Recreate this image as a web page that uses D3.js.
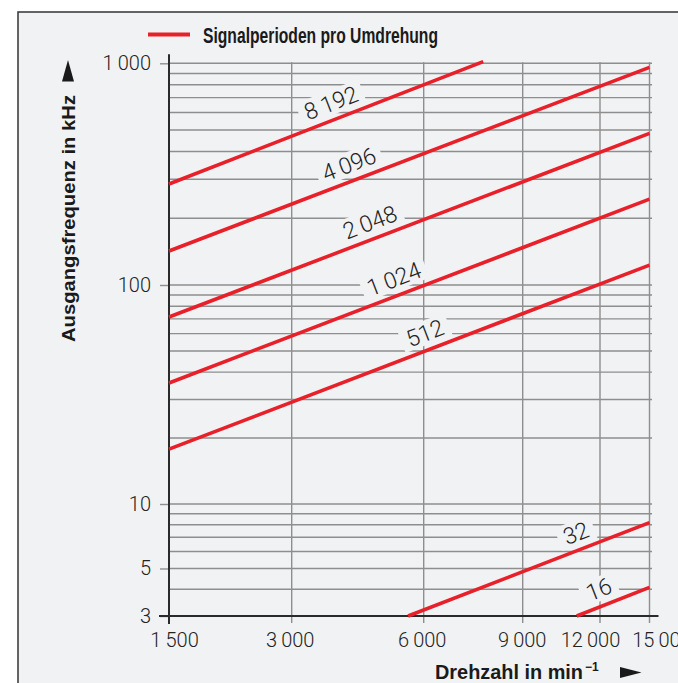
<!DOCTYPE html>
<html><head><meta charset="utf-8">
<script src="https://cdn.jsdelivr.net/npm/d3@7"></script>
<style>html,body{margin:0;padding:0;background:#fff;} svg{display:block;}</style>
</head><body><svg id="c" width="678" height="683"></svg>
<script>
const TS = "\u2009";
// ---- data ----
const xTicks = [1500, 3000, 6000, 9000, 12000, 15000];
const xTickLabels = ["1" + TS + "500", "3" + TS + "000", "6" + TS + "000", "9" + TS + "000", "12" + TS + "000", "15" + TS + "000"];
const yTicks = [3, 5, 10, 100, 1000];
const yTickLabels = ["3", "5", "10", "100", "1" + TS + "000"];
const seriesNames = ["8" + TS + "192", "4" + TS + "096", "2" + TS + "048", "1" + TS + "024", "512", "32", "16"];
const startRpm = [1500, 1500, 1500, 1500, 1500, 5528, 11005];
const startKHz = [285.5, 142.3, 71.4, 35.7, 17.8, 3, 3];
const endRpm = [7656, 15000, 15000, 15000, 15000, 15000, 15000];
const endKHz = [1017, 959, 483, 244, 123, 8.18, 4.08];
const labelRpm = [3806, 4183, 4669, 5297, 6182, 11220, 12274];
const legendLabel = "Signalperioden pro Umdrehung";
const yTitle = "Ausgangsfrequenz in kHz";
const xTitle = "Drehzahl in min";
const xTitleSup = "\u22121";

// ---- style ----
const BG = "#f1f2f4", GRID = "#8e8e8e", AX = "#2a2a2a", RED = "#e8202a", TXT = "#222";
const LIGHT = "Roboto, 'Liberation Sans', Arial, sans-serif";
const BOLD = "'Liberation Sans Narrow', 'Arial Narrow', 'Liberation Sans', Arial, sans-serif";

const svg = d3.select("#c");
svg.append("rect").attr("x", 18).attr("y", 12).attr("width", 720).attr("height", 720)
  .attr("fill", BG).attr("stroke", "#333").attr("stroke-width", 1.5);

const gridLayer = svg.append("g");
const patchLayer = svg.append("g");
const axisLayer = svg.append("g");
const lineLayer = svg.append("g");
const labelLayer = svg.append("g");

const x = d3.scaleLog().domain(xTicks).range([169, 291.7, 423.7, 522.7, 600, 649.5]);
const y = d3.scaleLog().domain([3, 10, 100, 1000]).range([616, 504, 285, 63.3]);

// horizontal grid (log minor ticks)
const gy = y.ticks().filter(v => v > 3);
gridLayer.append("g").selectAll("line").data(gy).join("line")
  .attr("x1", x(1500)).attr("x2", x(15000) + 2.5)
  .attr("y1", d => y(d)).attr("y2", d => y(d))
  .attr("stroke", GRID).attr("stroke-width", 1.4);

// vertical grid
gridLayer.append("g").selectAll("line").data(xTicks.slice(1)).join("line")
  .attr("x1", d => x(d)).attr("x2", d => x(d))
  .attr("y1", y(1000) - 1).attr("y2", y(3) + 7)
  .attr("stroke", GRID).attr("stroke-width", 1.4);

// left axis ticks/labels
const ya = axisLayer.append("g").attr("transform", `translate(${x(1500)},0)`)
  .call(d3.axisLeft(y).tickValues(yTicks).tickFormat((d, i) => yTickLabels[i]).tickSize(9).tickPadding(9));
ya.select(".domain").remove();
ya.selectAll(".tick line").attr("stroke", GRID).attr("stroke-width", 1.4);
ya.selectAll(".tick text").attr("font-family", LIGHT).attr("font-weight", 300)
  .attr("font-size", 20).attr("fill", TXT);

// bottom axis labels
const xOff = {1500: 5, 3000: -2, 6000: -2, 9000: -1, 12000: -10, 15000: 12};
const xa = axisLayer.append("g").attr("transform", `translate(0,${y(3)})`)
  .call(d3.axisBottom(x).tickValues(xTicks).tickFormat((d, i) => xTickLabels[i]).tickSize(0).tickPadding(17));
xa.select(".domain").remove();
xa.selectAll(".tick text").attr("font-family", LIGHT).attr("font-weight", 300)
  .attr("font-size", 20).attr("fill", TXT).attr("dx", d => xOff[d] || 0);

// axis lines
axisLayer.append("line").attr("x1", x(1500)).attr("x2", x(1500)).attr("y1", y(1000) - 9).attr("y2", y(3) + 8)
  .attr("stroke", AX).attr("stroke-width", 2);
axisLayer.append("line").attr("x1", x(1500) - 10).attr("x2", x(15000) + 9).attr("y1", y(3)).attr("y2", y(3))
  .attr("stroke", AX).attr("stroke-width", 2);

// series geometry
const lines = seriesNames.map((n, i) => {
  const x1 = x(startRpm[i]), y1 = y(startKHz[i]), x2 = x(endRpm[i]), y2 = y(endKHz[i]);
  const ang = Math.atan2(y2 - y1, x2 - x1);
  const lx = x(labelRpm[i]);
  const ly = y1 + (y2 - y1) * (lx - x1) / (x2 - x1);
  const off = 17;
  const cx = lx + Math.sin(ang) * off, cy = ly - Math.cos(ang) * off;
  return {name: n, x1, y1, x2, y2, ang: ang * 180 / Math.PI, cx, cy};
});

// red lines
lineLayer.selectAll("line").data(lines).join("line")
  .attr("x1", d => d.x1).attr("y1", d => d.y1).attr("x2", d => d.x2).attr("y2", d => d.y2)
  .attr("stroke", RED).attr("stroke-width", 3.6);

// labels + background patches
labelLayer.selectAll("text").data(lines).join("text")
  .attr("transform", d => `translate(${d.cx},${d.cy}) rotate(${d.ang})`)
  .text(d => d.name)
  .attr("text-anchor", "middle").attr("dy", "0.36em")
  .attr("font-family", LIGHT).attr("font-weight", 300).attr("font-size", 23).attr("fill", TXT)
  .each(function(d) {
    const w = this.getComputedTextLength();
    patchLayer.append("rect").attr("fill", BG)
      .attr("transform", `translate(${d.cx},${d.cy}) rotate(${d.ang})`)
      .attr("x", -w / 2 - 6).attr("y", -12).attr("width", w + 12).attr("height", 24);
  });

// legend
svg.append("line").attr("x1", 148).attr("x2", 190).attr("y1", 34.5).attr("y2", 34.5)
  .attr("stroke", RED).attr("stroke-width", 4);
svg.append("text").attr("x", 203).attr("y", 42.5).text(legendLabel)
  .attr("font-family", BOLD).attr("font-weight", 700).attr("font-size", 22).attr("fill", "#1a1a1a")
  .attr("textLength", 235).attr("lengthAdjust", "spacingAndGlyphs");

// y title
svg.append("text").attr("transform", "translate(75,218.5) rotate(-90)").attr("text-anchor", "middle")
  .text(yTitle).attr("font-family", BOLD).attr("font-weight", 700).attr("font-size", 19).attr("fill", "#1a1a1a")
  .attr("textLength", 247).attr("lengthAdjust", "spacingAndGlyphs");
svg.append("path").attr("d", "M68,60 L74,81.5 L62,81.5 Z").attr("fill", "#1a1a1a");

// x title
const xt = svg.append("text").attr("x", 435).attr("y", 679)
  .attr("font-family", BOLD).attr("font-weight", 700).attr("font-size", 20).attr("fill", "#1a1a1a");
xt.append("tspan").text(xTitle).attr("textLength", 148).attr("lengthAdjust", "spacingAndGlyphs");
xt.append("tspan").text(xTitleSup).attr("x", 585).attr("y", 671).attr("font-size", 12);
svg.append("path").attr("d", "M641.5,672.5 L620,667 L620,678 Z").attr("fill", "#1a1a1a");
</script></body></html>
